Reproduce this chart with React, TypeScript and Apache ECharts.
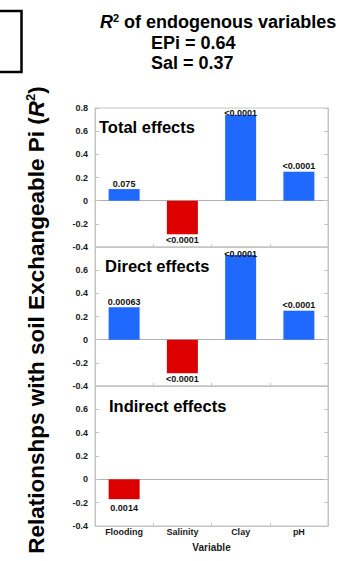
import React, { useEffect, useRef } from "react";
import * as echarts from "echarts";

// Predictor variables on the x axis
const categories = ["Flooding", "Salinity", "Clay", "pH"];

// Standardised effects on soil exchangeable Pi, with their p-values
const totalEffects = [0.1, -0.29, 0.74, 0.25];
const totalP = ["0.075", "<0.0001", "<0.0001", "<0.0001"];
const directEffects = [0.28, -0.29, 0.73, 0.25];
const directP = ["0.00063", "<0.0001", "<0.0001", "<0.0001"];
const indirectEffects = [-0.17, null, null, null];
const indirectP = ["0.0014", "", "", ""];

const panelTitles = ["Total effects", "Direct effects", "Indirect effects"];
const r2Lines = ["EPi = 0.64", "Sal = 0.37"];

// Shared y scale for every panel
const yMin = -0.4;
const yMax = 0.8;
const yStep = 0.2;

const FONT = "Liberation Sans, Arial, Helvetica, sans-serif";
const BLUE = "#1f69ff";
const RED = "#dc0000";
const GRID_LINE = "#c4c4c4";

const panels = [
  { values: totalEffects, pvals: totalP, top: 108, height: 139, negGap: 1, title: { x: 99, y: 127 } },
  { values: directEffects, pvals: directP, top: 247, height: 139, negGap: 1, title: { x: 105, y: 266 } },
  { values: indirectEffects, pvals: indirectP, top: 386, height: 140, negGap: 4, title: { x: 109, y: 406 } },
];

export default function App() {
  const ref = useRef<HTMLDivElement>(null);

  useEffect(() => {
    if (!ref.current) return;
    const chart = echarts.init(ref.current, null, { renderer: "svg" });

    const grids: any[] = [];
    const xAxes: any[] = [];
    const yAxes: any[] = [];
    const series: any[] = [];

    panels.forEach((p, i) => {
      const last = i === panels.length - 1;
      grids.push({
        left: 95,
        width: 233,
        top: p.top,
        height: p.height,
        show: true,
        borderColor: GRID_LINE,
        borderWidth: 1,
        backgroundColor: "transparent",
      });
      // bottom axis with boundary ticks (labels only on the lowest panel)
      xAxes.push({
        type: "category",
        gridIndex: i,
        data: categories,
        position: "bottom",
        axisLine: { onZero: false, lineStyle: { color: GRID_LINE } },
        axisTick: { show: true, inside: true, length: 3, lineStyle: { color: GRID_LINE } },
        axisLabel: {
          show: last,
          color: "#1a1a1a",
          fontFamily: FONT,
          fontWeight: "bold",
          fontSize: 9,
          margin: 1,
        },
        name: last ? "Variable" : "",
        nameLocation: "middle",
        nameGap: 16,
        nameTextStyle: { color: "#1a1a1a", fontFamily: FONT, fontWeight: "bold", fontSize: 10 },
        splitLine: { show: false },
      });
      // zero reference line
      xAxes.push({
        type: "category",
        gridIndex: i,
        data: categories,
        position: "top",
        axisLine: { show: true, onZero: true, lineStyle: { color: "#b0b0b0" } },
        axisTick: { show: false },
        axisLabel: { show: false },
        splitLine: { show: false },
      });
      yAxes.push({
        type: "value",
        gridIndex: i,
        min: yMin,
        max: yMax,
        interval: yStep,
        position: "left",
        axisLine: { show: true, lineStyle: { color: GRID_LINE } },
        axisTick: { show: true, inside: true, length: 4, lineStyle: { color: GRID_LINE } },
        axisLabel: {
          color: "#1a1a1a",
          fontFamily: FONT,
          fontWeight: "bold",
          fontSize: 9,
          margin: 7,
          showMaxLabel: i === 0,
          formatter: (v: number) => String(Math.round(v * 10) / 10),
        },
        splitLine: { show: false },
      });
      yAxes.push({
        type: "value",
        gridIndex: i,
        min: yMin,
        max: yMax,
        interval: yStep,
        position: "right",
        axisLine: { show: true, lineStyle: { color: GRID_LINE } },
        axisTick: { show: true, inside: true, length: 4, lineStyle: { color: GRID_LINE } },
        axisLabel: { show: false },
        splitLine: { show: false },
      });

      series.push({
        type: "bar",
        xAxisIndex: i * 2,
        yAxisIndex: i * 2,
        barWidth: 31,
        z: 3,
        data: p.values.map((v, k) =>
          v === null
            ? null
            : {
                value: v,
                itemStyle: { color: v < 0 ? RED : BLUE },
                label: {
                  show: true,
                  position: v < 0 ? "bottom" : "top",
                  distance: v < 0 ? p.negGap : v > 0.7 ? -3 : 1,
                  formatter: p.pvals[k],
                  color: "#111",
                  fontFamily: FONT,
                  fontWeight: "bold",
                  fontSize: 9,
                },
              }
        ),
      });
    });

    const bold = (size: number) => ({ fontFamily: FONT, fontWeight: "bold", fontSize: size, fill: "#000" });

    const graphic: any[] = [
      {
        type: "rect",
        shape: { x: -4, y: 11, width: 25.5, height: 61 },
        style: { fill: "none", stroke: "#000", lineWidth: 2.5 },
      },
      {
        type: "text",
        x: 100,
        y: 22,
        style: {
          text: "{i|R}{s|2}{n| of endogenous variables}",
          verticalAlign: "middle",
          align: "left",
          rich: {
            i: { ...bold(18), fontStyle: "italic", lineHeight: 20 },
            s: { ...bold(11), lineHeight: 20, verticalAlign: "top" },
            n: { ...bold(18), lineHeight: 20 },
          },
        },
      },
      ...r2Lines.map((t, k) => ({
        type: "text",
        x: 151,
        y: 43 + k * 20,
        style: { text: t, ...bold(18), verticalAlign: "middle", align: "left" },
      })),
      ...panels.map((p, i) => ({
        type: "text",
        x: p.title.x,
        y: p.title.y,
        style: { text: panelTitles[i], ...bold(16.5), verticalAlign: "middle", align: "left" },
      })),
      {
        type: "text",
        x: 36,
        y: 320,
        rotation: Math.PI / 2,
        style: {
          text: "{n|Relationshps with soil Exchangeable Pi (}{i|R}{s|2}{n|)}",
          align: "center",
          verticalAlign: "middle",
          rich: {
            n: { ...bold(22.5), lineHeight: 24 },
            i: { ...bold(22.5), fontStyle: "italic", lineHeight: 24 },
            s: { ...bold(13), lineHeight: 24, verticalAlign: "top" },
          },
        },
      },
    ];

    chart.setOption({
      animation: false,
      backgroundColor: "#fff",
      grid: grids,
      xAxis: xAxes,
      yAxis: yAxes,
      series,
      graphic,
    });

    return () => chart.dispose();
  }, []);

  return (
    <div
      ref={ref}
      style={{ position: "fixed", left: 0, top: 0, width: 362, height: 561, background: "#fff" }}
    />
  );
}
